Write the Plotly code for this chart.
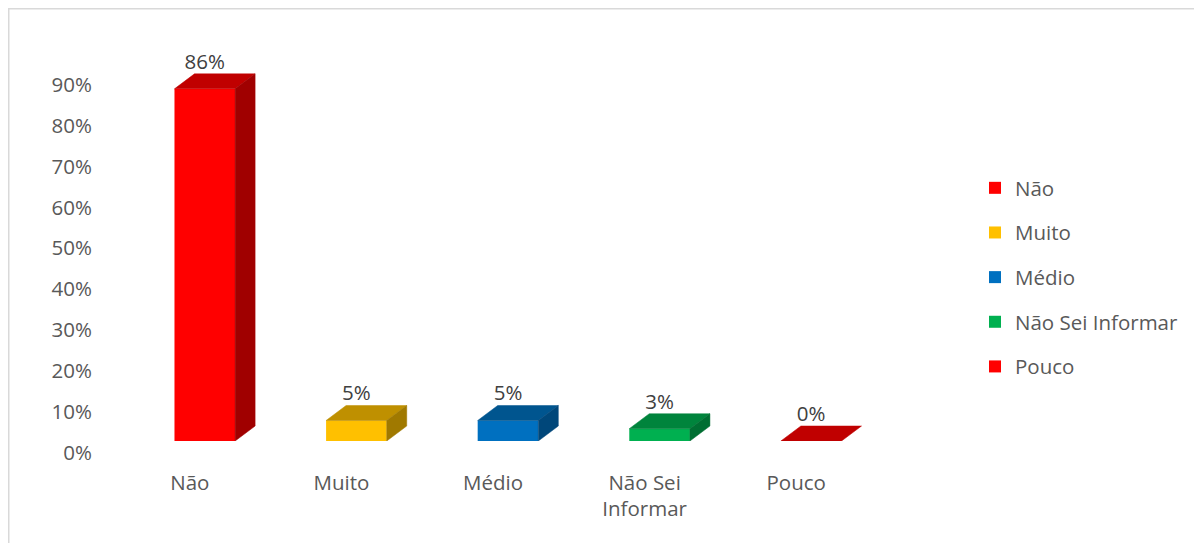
import plotly.graph_objects as go

# data
categories = ["Não", "Muito", "Médio", "Não Sei Informar", "Pouco"]
tick_labels = ["Não", "Muito", "Médio", "Não Sei<br>Informar", "Pouco"]
values = [0.86, 0.05, 0.05, 0.03, 0.00]
value_labels = ["86%", "5%", "5%", "3%", "0%"]
front_colors = ["#FF0000", "#FFC000", "#0070C0", "#00B050", "#FF0000"]
top_colors = ["#C00000", "#BF9000", "#00558F", "#00843C", "#C00000"]
side_colors = ["#A00000", "#A07900", "#00477A", "#006E32", "#A00000"]

# layout in pixels (page body adds an 8px margin)
W, H = 1194, 535
L, R, T, B = 121, 315, 44, 102
plot_w = W - L - R
plot_h = H - T - B
xr = [-0.5, 4.5]
yr = [0, 0.95]
px_x = plot_w / (xr[1] - xr[0])
px_y = plot_h / (yr[1] - yr[0])

bar_w = 0.4
dx = 20 / px_x   # 3d depth offsets
dy = 15 / px_y

font = "Open Sans, Noto Sans, sans-serif"
fs = 20.5
grey = "#595959"

fig = go.Figure()

for i, (c, v) in enumerate(zip(categories, values)):
    fig.add_trace(go.Bar(
        x=[i], y=[v], width=bar_w, name=c, marker_color=front_colors[i],
        marker_line_width=0, legendgroup=c, hoverinfo="skip"))

for i, v in enumerate(values):
    x0, x1 = i - bar_w / 2, i + bar_w / 2
    # top face
    fig.add_trace(go.Scatter(
        x=[x0, x1, x1 + dx, x0 + dx, x0], y=[v, v, v + dy, v + dy, v],
        fill="toself", fillcolor=top_colors[i], mode="lines",
        line=dict(width=0.5, color=top_colors[i]), showlegend=False, hoverinfo="skip"))
    # side face
    if v > 0:
        fig.add_trace(go.Scatter(
            x=[x1, x1, x1 + dx, x1 + dx, x1], y=[0, v, v + dy, dy, 0],
            fill="toself", fillcolor=side_colors[i], mode="lines",
            line=dict(width=0.5, color=side_colors[i]), showlegend=False, hoverinfo="skip"))

fig.add_trace(go.Scatter(
    x=list(range(len(values))), y=[v + dy for v in values], text=value_labels,
    mode="text", textposition="top center",
    textfont=dict(family=font, size=fs, color="#404040"),
    showlegend=False, hoverinfo="skip"))

# outer chart border (only top/left visible in the crop)
bx = (0.75 - L) / plot_w
by = (H - B - 0.75) / plot_h
fig.add_shape(type="rect", xref="paper", yref="paper", x0=bx, y0=-2, x1=3, y1=by,
              line=dict(color="#D9D9D9", width=1.5), layer="below")

fig.update_layout(
    width=W, height=H, margin=dict(l=L, r=R, t=T, b=B),
    plot_bgcolor="white", paper_bgcolor="white",
    font=dict(family=font, size=fs, color=grey),
    barmode="overlay",
    xaxis=dict(range=xr, tickvals=list(range(len(categories))), ticktext=tick_labels,
               showgrid=False, zeroline=False, showline=False, ticks="",
               ticklabelstandoff=27, ticklabelshift=-15,
               tickfont=dict(family=font, size=fs, color=grey)),
    yaxis=dict(range=yr, tickvals=[i / 10 for i in range(10)], tickformat=".0%",
               showgrid=False, zeroline=False, showline=False, ticks="",
               ticklabelstandoff=36, ticklabelshift=12,
               tickfont=dict(family=font, size=fs, color=grey)),
    legend=dict(x=(967 - L) / plot_w, xanchor="left", y=(H - B - 160) / plot_h, yanchor="top",
                traceorder="grouped", tracegroupgap=15,
                font=dict(family=font, size=fs, color=grey), bgcolor="rgba(0,0,0,0)"),
    showlegend=True,
)

fig.write_html("out.html")
